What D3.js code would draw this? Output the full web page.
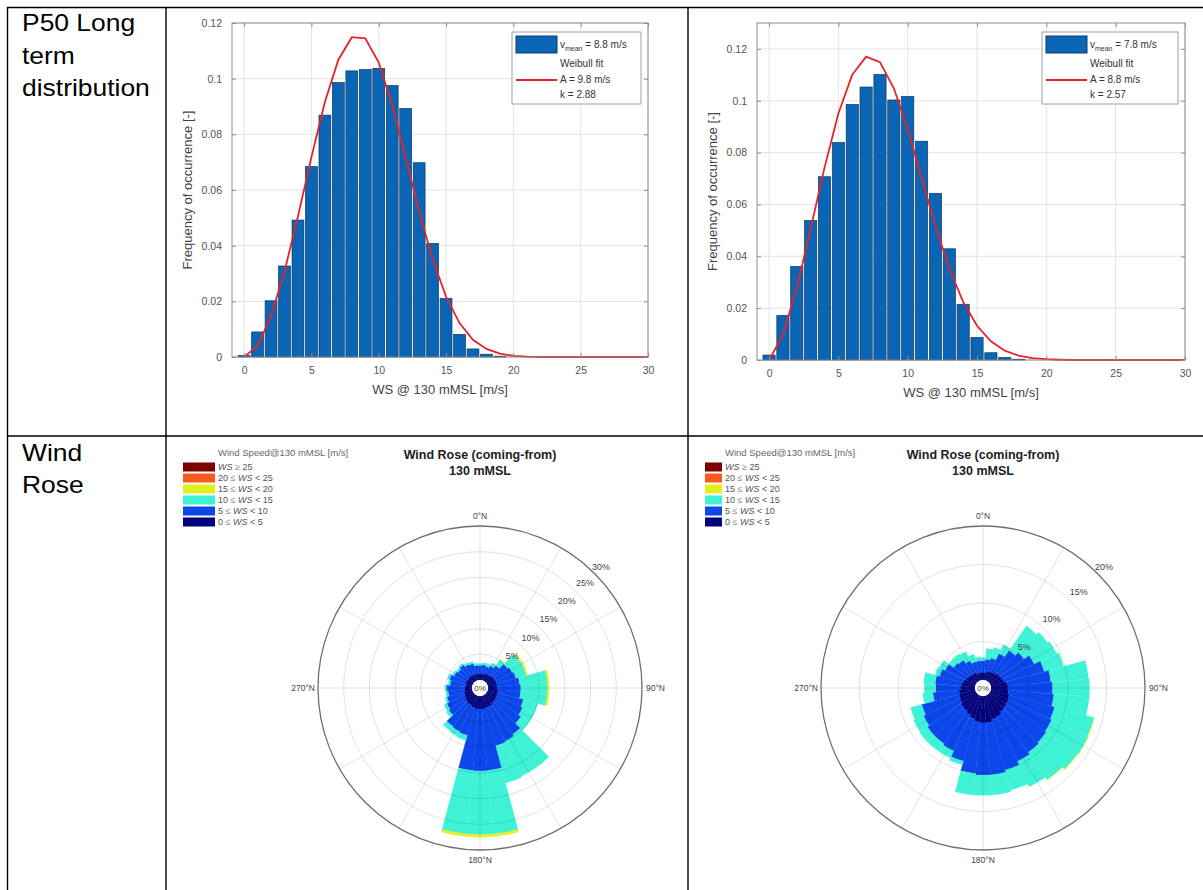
<!DOCTYPE html>
<html>
<head>
<meta charset="utf-8">
<script src="https://cdn.jsdelivr.net/npm/d3@7"></script>
<style>
  body { margin: 0; background: #fff; }
  text { font-family: "Liberation Sans", Arial, Helvetica, sans-serif; }
</style>
</head>
<body>
<svg id="page" width="1203" height="890"></svg>
<script>
// ---------- data ----------
// histogram: frequency per 1 m/s bin, bin centres 0,1,2,...
const wsBins = d3.range(0, 31);
const freqLeft = [0.0005, 0.009, 0.0202, 0.0327, 0.0492, 0.0684, 0.0869, 0.0986, 0.1028, 0.1033, 0.1037,
                  0.0975, 0.0893, 0.0698, 0.0408, 0.021, 0.0081, 0.0029, 0.001, 0.0003];
const fitLeft  = [0, 0.004, 0.0147, 0.0307, 0.0506, 0.0718, 0.0916, 0.1068, 0.1149, 0.1145, 0.1058,
                  0.0905, 0.0717, 0.0523, 0.0352, 0.0217, 0.0122, 0.0062, 0.0029, 0.0012, 0.0004,
                  0.0001, 0, 0, 0, 0, 0, 0, 0, 0, 0];
const freqRight = [0.0019, 0.0172, 0.0361, 0.0538, 0.0707, 0.0839, 0.0986, 0.1053, 0.1101, 0.1003, 0.1016,
                   0.0844, 0.0643, 0.0429, 0.0215, 0.0087, 0.0028, 0.001, 0.0003];
const fitRight  = [0, 0.0096, 0.0279, 0.0506, 0.0742, 0.0951, 0.1101, 0.117, 0.1149, 0.1048, 0.089,
                   0.0703, 0.0517, 0.0353, 0.0224, 0.0132, 0.0072, 0.0036, 0.0017, 0.0007, 0.0003,
                   0.0001, 0, 0, 0, 0, 0, 0, 0, 0, 0];
const xTicks = [0, 5, 10, 15, 20, 25, 30];
const yTicks = [0, 0.02, 0.04, 0.06, 0.08, 0.1, 0.12];
const legendLeft  = {vmean: "8.8", A: "9.8", k: "2.88"};
const legendRight = {vmean: "7.8", A: "8.8", k: "2.57"};

// wind rose: % of time per 10° sector (bearing 0..350) and speed class
const directions = d3.range(0, 360, 10);
const roseL_0_5   = [1.3,1.3,1.3,1.5,1.5,1.7,1.7,1.8,1.8,1.8,2.0,2.0,2.0,2.2,2.2,2.4,2.4,2.6,2.6,2.6,2.4,2.2,2.2,2.0,1.8,1.7,1.5,1.5,1.3,1.4,1.3,1.3,1.4,1.3,1.3,1.3];
const roseL_5_10  = [1.5,1.7,1.5,1.7,2.3,3.3,3.7,3.9,4.4,4.6,4.4,5.2,5.6,6.0,7.3,7.5,7.7,12.0,12.0,12.0,5.6,5.6,5.4,3.9,3.8,3.4,3.2,3.4,3.0,3.2,2.7,2.4,2.6,2.2,2.1,1.6];
const roseL_10_15 = [0.4,0.4,0.6,0.6,1.4,2.7,2.5,2.1,5.4,5.2,5.2,2.9,2.5,1.9,7.9,7.5,7.5,12.4,12.4,12.4,1.0,1.0,1.0,0.6,0.6,0.4,0.4,0.4,0.4,0.4,0.4,0.4,0.4,0.4,0.4,0.4];
const roseL_15_20 = [0,0,0,0,0.1,0.25,0.25,0.25,0.35,0.35,0.35,0,0,0,0,0,0,0.5,0.5,0.5,0,0,0,0,0,0,0,0,0,0,0,0,0,0,0,0];
const roseL_20_25 = d3.range(36).map(() => 0);
const roseL_25up  = d3.range(36).map(() => 0);

const roseR_0_5   = [1.0,1.0,1.2,1.3,1.4,1.6,1.7,1.8,2.1,2.2,2.3,2.5,2.6,2.7,2.8,3.1,3.2,3.5,3.5,3.4,3.1,2.8,2.6,2.5,2.3,2.2,2.1,1.9,1.8,1.6,1.4,1.3,1.2,1.2,1.0,1.0];
const roseR_5_10  = [1.5,1.7,1.8,2.6,3.5,3.9,4.6,5.4,5.7,5.8,5.9,6.1,6.2,6.3,6.4,6.4,6.8,6.8,6.8,6.7,5.7,5.2,5.2,5.3,5.2,5.0,3.4,3.2,3.4,3.2,3.0,2.3,2.2,1.7,1.5,1.5];
const roseR_10_15 = [0.4,1.4,1.4,1.3,3.9,3.7,3.2,2.6,4.9,4.8,4.6,5.3,5.2,4.9,4.3,3.6,2.7,2.6,2.6,2.8,0.5,1.0,1.2,1.2,1.4,1.5,1.3,1.5,1.5,0.6,0.8,0.8,1.0,1.3,1.0,0.5];
const roseR_15_20 = [0,0,0,0,0,0,0,0,0,0,0,0.06,0.06,0.06,0.06,0,0,0,0,0,0,0,0,0,0,0,0,0,0,0,0,0,0,0,0,0];
const roseR_20_25 = d3.range(36).map(() => 0);
const roseR_25up  = d3.range(36).map(() => 0);

// speed classes, inner to outer
const classLo = [0, 5, 10, 15, 20, 25];
const classHi = [5, 10, 15, 20, 25, null];
const classColors = ["#03037c", "#0c47ec", "#3ff2d6", "#e2f020", "#f65a1e", "#7d0000"];

const svg = d3.select("#page");

// ---------- table frame ----------
const frame = svg.append("g").attr("stroke", "#000").attr("stroke-width", 1.4);
frame.append("line").attr("x1", 7).attr("x2", 1203).attr("y1", 7.5).attr("y2", 7.5);
frame.append("line").attr("x1", 7).attr("x2", 1203).attr("y1", 436).attr("y2", 436);
frame.append("line").attr("x1", 7.5).attr("x2", 7.5).attr("y1", 7).attr("y2", 890);
frame.append("line").attr("x1", 166).attr("x2", 166).attr("y1", 7).attr("y2", 890);
frame.append("line").attr("x1", 688).attr("x2", 688).attr("y1", 7).attr("y2", 890);

const rowText = svg.append("g").attr("font-size", 23).attr("fill", "#000");
[["P50 Long", 31], ["term", 63.5], ["distribution", 96], ["Wind", 461], ["Rose", 493]].forEach(([t, y]) => {
  rowText.append("text").attr("transform", `translate(22,${y}) scale(1.15,1)`).text(t);
});

// ---------- histograms ----------
function histogram(o) {
  const {x, y, freq, fit, leg, legX} = o;
  const [x0, x1] = x.range(), [y0, y1] = y.range();
  const g = svg.append("g");

  // grid
  g.append("g").selectAll("line").data(xTicks).join("line")
    .attr("x1", d => x(d)).attr("x2", d => x(d)).attr("y1", y1).attr("y2", y0)
    .attr("stroke", "#e4e4e4");
  g.append("g").selectAll("line").data(yTicks).join("line")
    .attr("x1", x0).attr("x2", x1).attr("y1", d => y(d)).attr("y2", d => y(d))
    .attr("stroke", "#e4e4e4");

  // bars
  g.append("g").selectAll("rect").data(freq).join("rect")
    .attr("x", (d, i) => x(i - 0.44))
    .attr("width", (d, i) => x(i + 0.44) - x(i - 0.44))
    .attr("y", d => y(d))
    .attr("height", d => y(0) - y(d))
    .attr("fill", "#0b65b5").attr("stroke", "#0c3a64").attr("stroke-width", 0.7);

  // weibull fit
  g.append("path").datum(fit)
    .attr("d", d3.line().x((d, i) => x(wsBins[i])).y(d => y(d)))
    .attr("fill", "none").attr("stroke", "#e8222b").attr("stroke-width", 1.8);

  // box + axes
  g.append("rect").attr("x", x0).attr("y", y1).attr("width", x1 - x0).attr("height", y0 - y1)
    .attr("fill", "none").attr("stroke", "#8e8e8e");
  const styleAxis = s => {
    s.select(".domain").remove();
    s.selectAll(".tick line").attr("stroke", "#8e8e8e");
    s.selectAll("text").attr("fill", "#555").attr("font-size", 10.5);
  };
  g.append("g").attr("transform", `translate(0,${y0})`)
    .call(d3.axisBottom(x).tickValues(xTicks).tickSizeInner(-4).tickSizeOuter(0).tickPadding(10))
    .call(styleAxis);
  g.append("g").attr("transform", `translate(0,${y1})`)
    .call(d3.axisTop(x).tickValues(xTicks).tickSizeInner(-4).tickSizeOuter(0).tickFormat(""))
    .call(styleAxis);
  g.append("g").attr("transform", `translate(${x0},0)`)
    .call(d3.axisLeft(y).tickValues(yTicks).tickSizeInner(-4).tickSizeOuter(0).tickPadding(10)
      .tickFormat(d => String(+d.toFixed(2))))
    .call(styleAxis);
  g.append("g").attr("transform", `translate(${x1},0)`)
    .call(d3.axisRight(y).tickValues(yTicks).tickSizeInner(-4).tickSizeOuter(0).tickFormat(""))
    .call(styleAxis);

  g.append("text").attr("x", (x0 + x1) / 2).attr("y", y0 + 37)
    .attr("text-anchor", "middle").attr("font-size", 13).attr("fill", "#444")
    .text("WS @ 130 mMSL [m/s]");
  g.append("text").attr("transform", `translate(${x0 - 40},${(y0 + y1) / 2}) rotate(-90)`)
    .attr("text-anchor", "middle").attr("font-size", 13).attr("fill", "#444")
    .text("Frequency of occurrence [-]");

  // legend
  const lg = g.append("g").attr("transform", `translate(${legX},32)`);
  lg.append("rect").attr("width", x1 - 7 - legX).attr("height", 72)
    .attr("fill", "#fff").attr("stroke", "#a0a0a0");
  lg.append("rect").attr("x", 4).attr("y", 4).attr("width", 41).attr("height", 17)
    .attr("fill", "#0b65b5").attr("stroke", "#0c3a64");
  lg.append("line").attr("x1", 4).attr("x2", 45).attr("y1", 48).attr("y2", 48)
    .attr("stroke", "#e8222b").attr("stroke-width", 1.8);
  const lt = lg.append("g").attr("font-size", 10).attr("fill", "#333");
  const t1 = lt.append("text").attr("x", 48).attr("y", 16);
  t1.append("tspan").text("v");
  t1.append("tspan").attr("font-size", 7).attr("dy", 3).text("mean");
  t1.append("tspan").attr("dy", -3).text(` = ${leg.vmean} m/s`);
  lt.append("text").attr("x", 48).attr("y", 35).text("Weibull fit");
  lt.append("text").attr("x", 48).attr("y", 51).text(`A = ${leg.A} m/s`);
  lt.append("text").attr("x", 48).attr("y", 66).text(`k = ${leg.k}`);
}

histogram({
  x: d3.scaleLinear().domain([-0.9, 30]).range([232, 648]),
  y: d3.scaleLinear().domain([0, 0.12]).range([357, 23]),
  freq: freqLeft, fit: fitLeft, leg: legendLeft, legX: 512
});
histogram({
  x: d3.scaleLinear().domain([-0.87, 30]).range([757, 1185]),
  y: d3.scaleLinear().domain([0, 0.13]).range([360, 23]),
  freq: freqRight, fit: fitRight, leg: legendRight, legX: 1042
});

// ---------- wind roses ----------
function windRose(o) {
  const {cx, cy, maxP, bins, legX, legW} = o;
  const R = 162, r0 = 8;
  const r = d3.scaleLinear().domain([0, maxP]).range([r0, R]);
  const rad = Math.PI / 180;
  const g = svg.append("g").attr("transform", `translate(${cx},${cy})`);
  const arc = d3.arc();

  // sectors stacked by speed class
  const cells = [];
  directions.forEach((dir, i) => {
    let cum = 0;
    bins.forEach((b, j) => {
      const v = b[i];
      if (v > 0) cells.push({dir, j, a: cum, b: cum + v});
      cum += v;
    });
  });
  g.append("g").selectAll("path").data(cells).join("path")
    .attr("d", d => arc({innerRadius: r(d.a), outerRadius: r(d.b),
                          startAngle: (d.dir - 5) * rad, endAngle: (d.dir + 5) * rad}))
    .attr("fill", d => classColors[d.j])
    .attr("stroke", d => classColors[d.j])
    .attr("stroke-width", 0.3);

  // grid over the patches
  const rings = d3.range(5, maxP, 5);
  const grid = g.append("g").attr("fill", "none").attr("stroke", "rgba(0,0,0,0.15)").attr("stroke-width", 0.8);
  grid.selectAll("circle").data(rings).join("circle").attr("r", d => r(d));
  grid.selectAll("line").data(d3.range(0, 360, 30)).join("line")
    .attr("x1", d => r0 * Math.sin(d * rad)).attr("y1", d => -r0 * Math.cos(d * rad))
    .attr("x2", d => R * Math.sin(d * rad)).attr("y2", d => -R * Math.cos(d * rad));
  g.append("circle").attr("r", R).attr("fill", "none").attr("stroke", "#6e6e6e").attr("stroke-width", 1.3);

  // centre hole
  g.append("circle").attr("r", r0).attr("fill", "#fff");
  g.append("text").attr("y", 3).attr("text-anchor", "middle").attr("font-size", 8).attr("fill", "#444").text("0%");

  // ring labels along 45°
  g.append("g").selectAll("text").data(rings.concat([maxP])).join("text")
    .attr("x", d => (r(d) + (d === maxP ? 9 : 12)) * Math.sin(45 * rad))
    .attr("y", d => -(r(d) + (d === maxP ? 9 : 12)) * Math.cos(45 * rad) + 3)
    .attr("text-anchor", "middle").attr("font-size", 9).attr("fill", "#444")
    .text(d => d + "%");

  // compass labels
  const cl = g.append("g").attr("font-size", 8.5).attr("fill", "#444");
  cl.append("text").attr("x", 0).attr("y", -R - 7).attr("text-anchor", "middle").text("0°N");
  cl.append("text").attr("x", R + 4).attr("y", 3).attr("text-anchor", "start").text("90°N");
  cl.append("text").attr("x", 0).attr("y", R + 13).attr("text-anchor", "middle").text("180°N");
  cl.append("text").attr("x", -R - 3).attr("y", 3).attr("text-anchor", "end").text("270°N");

  // title
  const tt = svg.append("g").attr("font-size", 12.5).attr("font-weight", "bold").attr("fill", "#222")
    .attr("text-anchor", "middle");
  tt.append("text").attr("x", cx).attr("y", 459).text("Wind Rose (coming-from)");
  tt.append("text").attr("x", cx).attr("y", 475).text("130 mMSL");

  // legend (outer class first)
  const lg = svg.append("g").attr("transform", `translate(${legX},0)`);
  lg.append("text").attr("x", legW + 3).attr("y", 456).attr("font-size", 9.5).attr("fill", "#666")
    .text("Wind Speed@130 mMSL [m/s]");
  const order = d3.range(classLo.length).reverse();
  order.forEach((j, k) => {
    const yy = 467 + k * 11;
    lg.append("rect").attr("x", 0).attr("y", yy - 4.5).attr("width", legW).attr("height", 9)
      .attr("fill", classColors[j]);
    const t = lg.append("text").attr("x", legW + 3).attr("y", yy + 3).attr("font-size", 9).attr("fill", "#555");
    if (classHi[j] === null) {
      t.append("tspan").attr("font-style", "italic").text("WS");
      t.append("tspan").attr("fill", "#999").text(" ≥ ");
      t.append("tspan").text(classLo[j]);
    } else {
      t.append("tspan").text(classLo[j]);
      t.append("tspan").attr("fill", "#999").text(" ≤ ");
      t.append("tspan").attr("font-style", "italic").text("WS");
      t.append("tspan").text(" < " + classHi[j]);
    }
  });
}

windRose({
  cx: 480, cy: 688, maxP: 30, legX: 183, legW: 32,
  bins: [roseL_0_5, roseL_5_10, roseL_10_15, roseL_15_20, roseL_20_25, roseL_25up]
});
windRose({
  cx: 983, cy: 688, maxP: 20, legX: 705, legW: 17,
  bins: [roseR_0_5, roseR_5_10, roseR_10_15, roseR_15_20, roseR_20_25, roseR_25up]
});
</script>
</body>
</html>
